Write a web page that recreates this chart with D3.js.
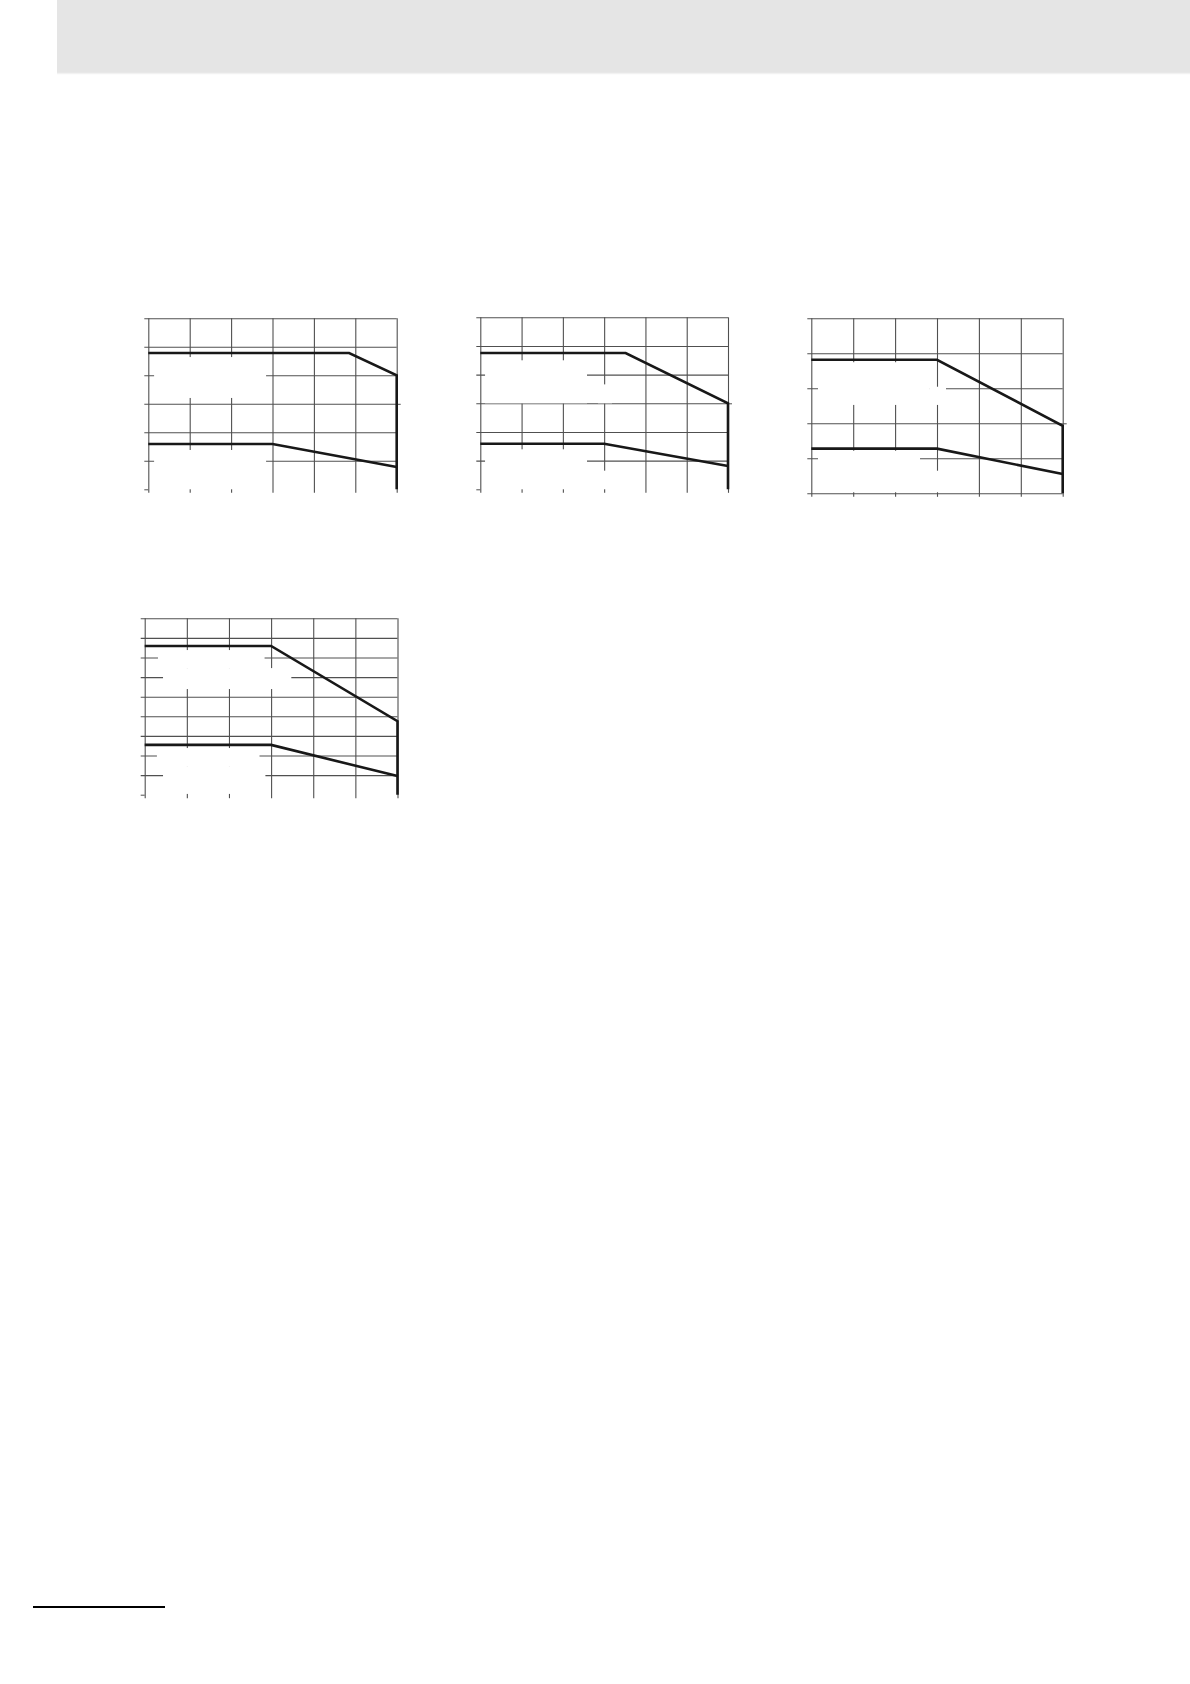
<!DOCTYPE html>
<html>
<head>
<meta charset="utf-8">
<script src="https://cdn.jsdelivr.net/npm/d3@7"></script>
<style>
  body { margin: 0; background: #fff; }
  svg { display: block; }
</style>
</head>
<body>
<div id="page"></div>
<script>
// Tick values (ambient temperature, load)
const tempTicks = [-40, -20, 0, 20, 40, 60, 80];
const loadTicks120 = [0, 20, 40, 60, 80, 100, 120];
const loadTicks100 = [0, 20, 40, 60, 80, 100];
const loadTicks90 = [0, 10, 20, 30, 40, 50, 60, 70, 80, 90];

// Derating curves: [temperature, load]
const chart1Upper = [[-40, 95.6], [57, 95.6], [80, 80], [80, 0]];
const chart1Lower = [[-40, 31.8], [20, 31.8], [80, 15.6]];
const chart2Upper = [[-40, 95.1], [30.4, 95.1], [80, 60], [80, 0]];
const chart2Lower = [[-40, 31.8], [20, 31.8], [80, 16.3]];
const chart3Upper = [[-40, 76.3], [20, 76.3], [80, 38.6], [80, 0]];
const chart3Lower = [[-40, 25.5], [20, 25.5], [80, 11]];
const chart4Upper = [[-40, 75.9], [20, 75.9], [80, 37.5], [80, 0]];
const chart4Lower = [[-40, 25.4], [20, 25.4], [80, 9.5]];

// blank label areas inside each plot (in data units): [x0, x1, y0, y1]
const chart1Blanks = [[-37.2, 16.9, 64.1, 92.8], [-37.2, 16.9, 0, 27.6]];
const chart2Blanks = [[-37.7, 11.7, 60, 90], [17, 23.8, 60, 73.2], [-37.7, 11.7, 0, 27.9], [17, 23.8, 0, 13]];
const chart3Blanks = [[-36.8, 16.6, 50.5, 74.9], [16.6, 24.3, 50.5, 60.9], [-36.8, 11.9, 0.6, 24.3], [14.2, 26.2, 0.6, 12.9]];
const chart4Blanks = [[-33.7, 16.9, 64.6, 73.8], [-31.3, 29.6, 53.9, 64.6], [-34.2, 14.5, 14.6, 23.8], [-31.3, 17.3, 0.4, 14.6]];

const width = 1190;
const height = 1684;

const svg = d3.select("#page").append("svg")
  .attr("width", width)
  .attr("height", height);

// grey page header band
svg.append("rect")
  .attr("x", 57).attr("y", 0)
  .attr("width", width - 57).attr("height", 73)
  .attr("fill", "#e5e5e5");
svg.append("line")
  .attr("x1", 57).attr("x2", width)
  .attr("y1", 73.5).attr("y2", 73.5)
  .attr("stroke", "#f2f2f2").attr("stroke-width", 1.5);

// footer rule
svg.append("line")
  .attr("x1", 33).attr("x2", 165)
  .attr("y1", 1607).attr("y2", 1607)
  .attr("stroke", "#000").attr("stroke-width", 2);

const charts = [
  { left: 148.3, right: 396.7, top: 318.3, bottom: 489.3, yTicks: loadTicks120, upper: chart1Upper, lower: chart1Lower, blanks: chart1Blanks, baseLine: false, rightTick: 60 },
  { left: 480.3, right: 728, top: 317.3, bottom: 489.3, yTicks: loadTicks120, upper: chart2Upper, lower: chart2Lower, blanks: chart2Blanks, baseLine: false, rightTick: 60 },
  { left: 811.3, right: 1062.7, top: 318.3, bottom: 493.3, yTicks: loadTicks100, upper: chart3Upper, lower: chart3Lower, blanks: chart3Blanks, baseLine: true, rightTick: 40 },
  { left: 144.7, right: 397.5, top: 618.3, bottom: 794.7, yTicks: loadTicks90, upper: chart4Upper, lower: chart4Lower, blanks: chart4Blanks, baseLine: false, rightTick: null }
];

const gridColor = "#505050";
const curveColor = "#181818";

charts.forEach(c => {
  const w = c.right - c.left;
  const h = c.bottom - c.top;
  const x = d3.scaleLinear().domain([tempTicks[0], tempTicks[tempTicks.length - 1]]).range([0, w]);
  const y = d3.scaleLinear().domain([c.yTicks[0], c.yTicks[c.yTicks.length - 1]]).range([h, 0]);

  const g = svg.append("g").attr("transform", `translate(${c.left},${c.top})`);

  // horizontal grid with short stubs left of the frame
  const hTicks = c.baseLine ? c.yTicks : c.yTicks.slice(1);
  g.append("g")
    .call(d3.axisLeft(y).tickValues(hTicks).tickSize(-w).tickFormat(""))
    .call(s => s.select(".domain").remove())
    .call(s => s.selectAll(".tick line").attr("x1", -4).attr("stroke", gridColor).attr("stroke-width", 1.1));

  // left stub at the base when there is no base line
  if (!c.baseLine) {
    g.append("g")
      .call(d3.axisLeft(y).tickValues([c.yTicks[0]]).tickSize(4).tickFormat(""))
      .call(s => s.select(".domain").remove())
      .call(s => s.selectAll(".tick line").attr("stroke", gridColor));
  }

  // vertical grid with short stubs below the frame
  g.append("g")
    .attr("transform", `translate(0,${h})`)
    .call(d3.axisBottom(x).tickValues(tempTicks).tickSize(-h).tickFormat(""))
    .call(s => s.select(".domain").remove())
    .call(s => s.selectAll(".tick line").attr("y1", 3.5).attr("stroke", gridColor).attr("stroke-width", 1.1));

  // blank areas where the labels sat
  g.append("g").selectAll("rect")
    .data(c.blanks)
    .join("rect")
      .attr("x", d => x(d[0]))
      .attr("y", d => y(d[3]))
      .attr("width", d => x(d[1]) - x(d[0]))
      .attr("height", d => y(d[2]) - y(d[3]))
      .attr("fill", "#fff");

  // small stub right of the frame
  if (c.rightTick !== null) {
    g.append("g")
      .attr("transform", `translate(${w},0)`)
      .call(d3.axisRight(y).tickValues([c.rightTick]).tickSize(4).tickFormat(""))
      .call(s => s.select(".domain").remove())
      .call(s => s.selectAll(".tick line").attr("stroke", gridColor));
  }

  const line = d3.line().x(d => x(d[0])).y(d => y(d[1]));

  g.selectAll("path.curve")
    .data([c.upper, c.lower])
    .join("path")
      .attr("class", "curve")
      .attr("d", line)
      .attr("fill", "none")
      .attr("stroke", curveColor)
      .attr("stroke-width", 2.6)
      .attr("stroke-linejoin", "miter");
});
</script>
</body>
</html>
